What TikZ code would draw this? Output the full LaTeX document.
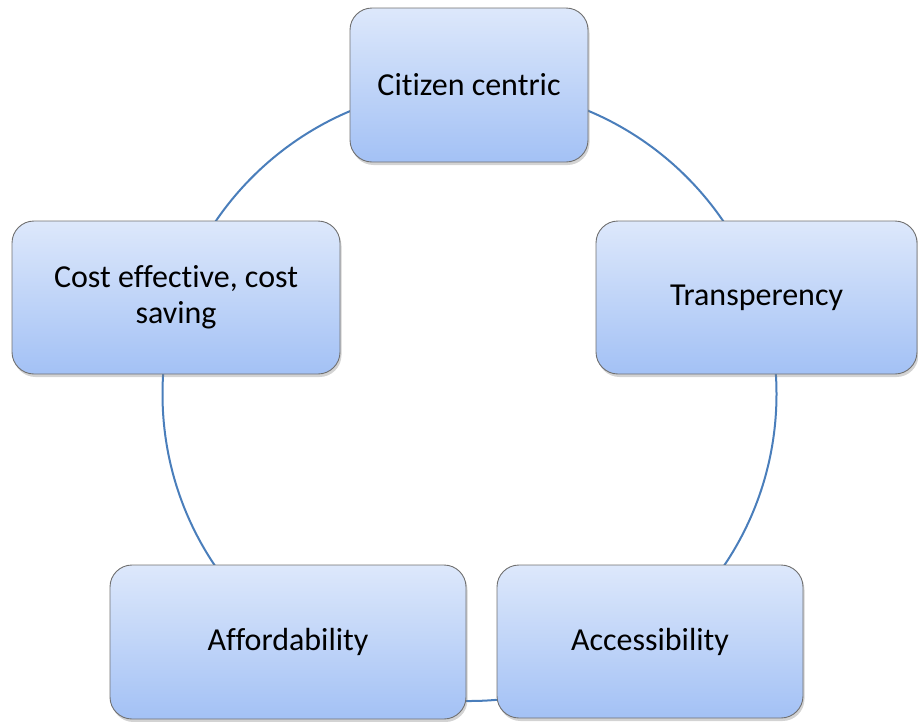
\documentclass[tikz,border=0pt]{standalone}
\usepackage{fontspec}
\setmainfont[Ligatures=NoCommon]{Carlito}
\usetikzlibrary{shadows}
\definecolor{boxtop}{HTML}{DDE8FB}
\definecolor{boxbot}{HTML}{A3C1F5}
\definecolor{boxline}{HTML}{707070}
\definecolor{ringblue}{HTML}{4A7EBB}
\tikzstyle{pillar} = [rectangle, rounded corners=22pt, draw=boxline, line width=0.9pt, top color=boxtop, bottom color=boxbot, align=center, font=\fontsize{32}{36}\selectfont, drop shadow={shadow xshift=1.5pt, shadow yshift=-3pt, opacity=0.35}]
\tikzstyle{ring} = [draw=ringblue, line width=2pt]
\begin{document}
\begin{tikzpicture}[x=1pt, y=-1pt]
\useasboundingbox (0,0) rectangle (918,721);
\coordinate (hub) at (469.5,394);
\draw [ring] (hub) circle (307pt);
\node (citizen) [pillar, minimum width=238pt, minimum height=154pt] at (469,85) {Citizen centric};
\node (transp) [pillar, minimum width=321pt, minimum height=153pt] at (756.5,297.5) {Transperency};
\node (access) [pillar, minimum width=306pt, minimum height=153pt] at (650,641.5) {Accessibility};
\node (afford) [pillar, minimum width=356pt, minimum height=154pt] at (288,642) {Affordability};
\node (cost) [pillar, minimum width=328pt, minimum height=153pt] at (176,297.5) {Cost effective, cost\\saving};
\end{tikzpicture}
\end{document}
